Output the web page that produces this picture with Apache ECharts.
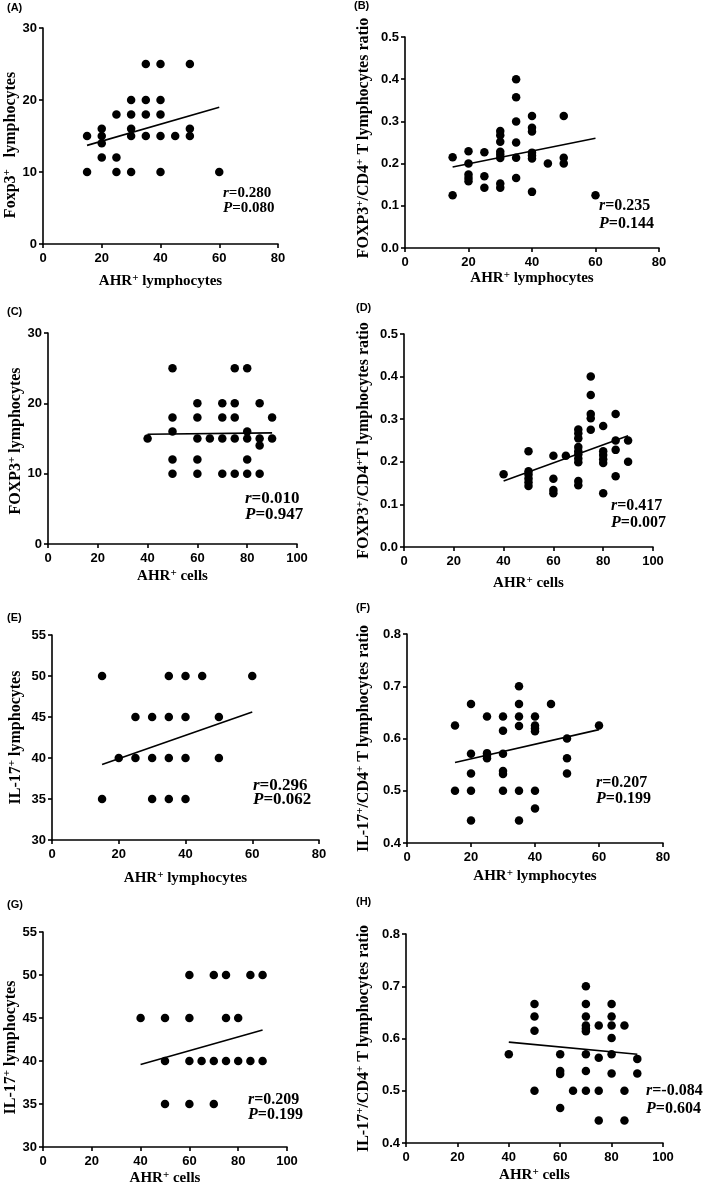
<!DOCTYPE html>
<html><head><meta charset="utf-8">
<script src="https://cdn.jsdelivr.net/npm/echarts@6/dist/echarts.min.js"></script>
<style>html,body{margin:0;padding:0;background:#fff}#c{width:709px;height:1192px}</style>
</head><body><div id="c"></div>
<script>
// ---------- DATA ----------
const aX = [15,15,20,20,20,20,25,25,25,30,30,30,30,30,35,35,35,35,40,40,40,40,40,45,50,50,50,60];
const aY = [15,10,16,15,14,12,18,12,10,20,18,16,15,10,25,20,18,15,25,20,18,15,10,15,25,16,15,10];
const aLineX = [15,60], aLineY = [13.7,19.0];

const bX = [15,15,20,20,20,20,20,25,25,25,30,30,30,30,30,30,30,30,35,35,35,35,35,35,40,40,40,40,40,40,40,45,50,50,50,60];
const bY = [0.215,0.125,0.229,0.2,0.174,0.166,0.158,0.227,0.17,0.143,0.277,0.267,0.252,0.228,0.221,0.213,0.153,0.143,0.4,0.357,0.3,0.25,0.214,0.166,0.313,0.285,0.276,0.226,0.219,0.212,0.133,0.2,0.313,0.214,0.2,0.125];
const bLineX = [15,60], bLineY = [0.192,0.26];

const cX = [40,50,50,50,50,50,60,60,60,60,60,65,70,70,70,70,75,75,75,75,75,80,80,80,80,80,85,85,85,85,90,90];
const cY = [15,25,18,16,12,10,20,18,15,12,10,15,20,18,15,10,25,20,18,15,10,25,16,15,12,10,20,15,14,10,18,15];
const cLineX = [40,90], cLineY = [15.6,15.8];

const dX = [40,50,50,50,50,50,50,60,60,60,60,65,70,70,70,70,70,70,70,70,70,70,75,75,75,75,75,80,80,80,80,80,80,85,85,85,85,90,90];
const dY = [0.171,0.225,0.178,0.170,0.161,0.152,0.143,0.214,0.16,0.134,0.126,0.214,0.276,0.267,0.255,0.235,0.225,0.218,0.208,0.199,0.155,0.145,0.4,0.357,0.312,0.302,0.275,0.284,0.225,0.216,0.206,0.197,0.126,0.312,0.25,0.228,0.166,0.25,0.2];
const dLineX = [40,90], dLineY = [0.155,0.261];

const eX = [15,15,20,25,25,30,30,30,35,35,35,35,40,40,40,40,45,50,50,60];
const eY = [50,35,40,45,40,45,40,35,50,45,40,35,50,45,40,35,50,45,40,50];
const eLineX = [15,60], eLineY = [39.2,45.6];

const fX = [15,15,20,20,20,20,20,25,25,25,25,30,30,30,30,30,30,35,35,35,35,35,35,40,40,40,40,40,40,45,50,50,50,60];
const fY = [0.625,0.5,0.666,0.571,0.533,0.5,0.443,0.642,0.572,0.567,0.562,0.642,0.615,0.571,0.538,0.532,0.5,0.7,0.666,0.642,0.624,0.5,0.443,0.642,0.625,0.619,0.614,0.5,0.466,0.666,0.6,0.562,0.533,0.625];
const fLineX = [15,60], fLineY = [0.554,0.617];

const gX = [40,50,50,50,60,60,60,60,65,70,70,70,75,75,75,80,80,85,85,90,90];
const gY = [45,45,40,35,50,45,40,35,40,50,40,35,50,45,40,45,40,50,40,50,40];
const gLineX = [40,90], gLineY = [39.6,43.6];

const hX = [40,50,50,50,50,60,60,60,60,65,70,70,70,70,70,70,70,70,70,75,75,75,75,80,80,80,80,80,80,85,85,85,90,90];
const hY = [0.57,0.666,0.642,0.615,0.5,0.57,0.538,0.532,0.467,0.5,0.7,0.666,0.642,0.625,0.619,0.614,0.57,0.538,0.5,0.625,0.563,0.5,0.443,0.666,0.642,0.625,0.601,0.57,0.533,0.625,0.5,0.443,0.561,0.533];
const hLineX = [40,90], hLineY = [0.593,0.570];

const panelLabels = ['(A)','(B)','(C)','(D)','(E)','(F)','(G)','(H)'];
const xNames = ['AHR⁺ lymphocytes','AHR⁺ lymphocytes','AHR⁺ cells','AHR⁺ cells','AHR⁺ lymphocytes','AHR⁺ lymphocytes','AHR⁺ cells','AHR⁺ cells'];
const yNames = ['Foxp3⁺   lymphocytes','FOXP3⁺/CD4⁺ T lymphocytes ratio','FOXP3⁺ lymphocytes','FOXP3⁺/CD4⁺T lymphocytes ratio','IL-17⁺ lymphocytes','IL-17⁺/CD4⁺ T lymphocytes ratio','IL-17⁺ lymphocytes','IL-17⁺/CD4⁺ T lymphocytes ratio'];
const rValues = ['0.280','0.235','0.010','0.417','0.296','0.207','0.209','-0.084'];
const pValues = ['0.080','0.144','0.947','0.007','0.062','0.199','0.199','0.604'];
const xMax = [80,80,100,100,80,80,100,100];
const yMin = [0,0,0,0,30,0.4,30,0.4];
const yMax = [30,0.5,30,0.5,55,0.8,55,0.8];
const yInterval = [10,0.1,10,0.1,5,0.1,5,0.1];
const yDecimals = [0,1,0,1,0,1,0,1];

const panelsX = [aX,bX,cX,dX,eX,fX,gX,hX];
const panelsY = [aY,bY,cY,dY,eY,fY,gY,hY];
const linesX = [aLineX,bLineX,cLineX,dLineX,eLineX,fLineX,gLineX,hLineX];
const linesY = [aLineY,bLineY,cLineY,dLineY,eLineY,fLineY,gLineY,hLineY];

// ---------- LAYOUT ----------
const grids = [
  [43,28,235,216],[405,37,254,211],
  [48,333,249,211],[404,334,249,213],
  [52,635,267,205],[407,634,256,209],
  [43,932,244,215],[406,934,257,209]
];
const xGap = [29,20,24,28,30,25,23,24];
const yGap = [19.5,32,23.5,31,27.5,34,19,33];
const yPad = [[0,18,0,0],[0,0,0,9],[0,5,0,0],0,0,0,[0,16,0,0],0];
const labelPos = [[7,2],[354,0],[7,306],[356,302],[7,612],[356,602],[7,899],[356,896]];
const statPos = [[223,186],[599,197],[245,490],[611,497],[253,779],[596,775],[248,1092],[646,1082]];
const statFont = [15,16,17,16,17,16,16,16];
const statLH = [14.5,18,16.5,17,14,16,15,18];

const SERIF = '"Liberation Serif","Times New Roman",serif';
const SANS = '"Liberation Sans",Arial,sans-serif';

function richName(str){
  const parts = str.split('⁺');
  let out = '';
  parts.forEach((p,i)=>{ if(p) out += '{n|'+p+'}'; if(i<parts.length-1) out += '{s|+}'; });
  return out;
}
function nameStyle(size, pad){
  const s = Math.round(size*0.7);
  const st = {
    color:'#000',
    rich:{
      n:{fontFamily:SERIF,fontWeight:'bold',fontSize:size,lineHeight:size+2,color:'#000'},
      s:{fontFamily:SERIF,fontWeight:'bold',fontSize:s,lineHeight:s,verticalAlign:'top',color:'#000'}
    }
  };
  if(pad) st.padding = pad;
  return st;
}

const option = {animation:false, backgroundColor:'#fff', grid:[], xAxis:[], yAxis:[], series:[], title:[]};
for(let i=0;i<8;i++){
  const g = grids[i];
  option.grid.push({left:g[0],top:g[1],width:g[2],height:g[3],containLabel:false});
  option.xAxis.push({
    gridIndex:i,type:'value',min:0,max:xMax[i],interval:20,
    axisLine:{show:true,onZero:false,lineStyle:{color:'#000',width:1.6}},
    axisTick:{show:true,length:4,lineStyle:{color:'#000',width:1.6}},
    splitLine:{show:false},
    axisLabel:{color:'#000',fontFamily:SANS,fontWeight:'bold',fontSize:13,margin:8},
    name:richName(xNames[i]),nameLocation:'middle',nameGap:xGap[i],
    nameTextStyle:nameStyle(15)
  });
  const dec = yDecimals[i];
  option.yAxis.push({
    gridIndex:i,type:'value',min:yMin[i],max:yMax[i],interval:yInterval[i],
    axisLine:{show:true,onZero:false,lineStyle:{color:'#000',width:1.6}},
    axisTick:{show:true,length:4,lineStyle:{color:'#000',width:1.6}},
    splitLine:{show:false},
    axisLabel:{color:'#000',fontFamily:SANS,fontWeight:'bold',fontSize:13,margin:6,
      formatter:v=>Number(v).toFixed(dec)},
    name:richName(yNames[i]),nameLocation:'middle',nameGap:yGap[i],
    nameTextStyle:nameStyle(16, yPad[i] || null)
  });
  const xs = panelsX[i], ys = panelsY[i];
  option.series.push({
    type:'scatter',xAxisIndex:i,yAxisIndex:i,symbol:'circle',symbolSize:8.5,
    itemStyle:{color:'#000',opacity:1},data:xs.map((x,j)=>[x,ys[j]]),z:3
  });
  const lx = linesX[i], ly = linesY[i];
  option.series.push({
    type:'line',xAxisIndex:i,yAxisIndex:i,symbol:'none',
    lineStyle:{color:'#000',width:1.6},data:lx.map((x,j)=>[x,ly[j]]),z:4
  });
  option.title.push({
    text:panelLabels[i],left:labelPos[i][0],top:labelPos[i][1],padding:0,
    textStyle:{fontFamily:SANS,fontWeight:'bold',fontSize:11,color:'#000'}
  });
  const fs = statFont[i], lh = statLH[i];
  option.title.push({
    text:'{i|r}{b|='+rValues[i]+'}\n{i|P}{b|='+pValues[i]+'}',
    left:statPos[i][0],top:statPos[i][1],padding:0,
    textStyle:{rich:{
      i:{fontFamily:SERIF,fontStyle:'italic',fontWeight:'bold',fontSize:fs,lineHeight:lh,color:'#000'},
      b:{fontFamily:SERIF,fontWeight:'bold',fontSize:fs,lineHeight:lh,color:'#000'}
    }}
  });
}
const chart = echarts.init(document.getElementById('c'),null,{renderer:'canvas'});
chart.setOption(option);
</script>
</body></html>
